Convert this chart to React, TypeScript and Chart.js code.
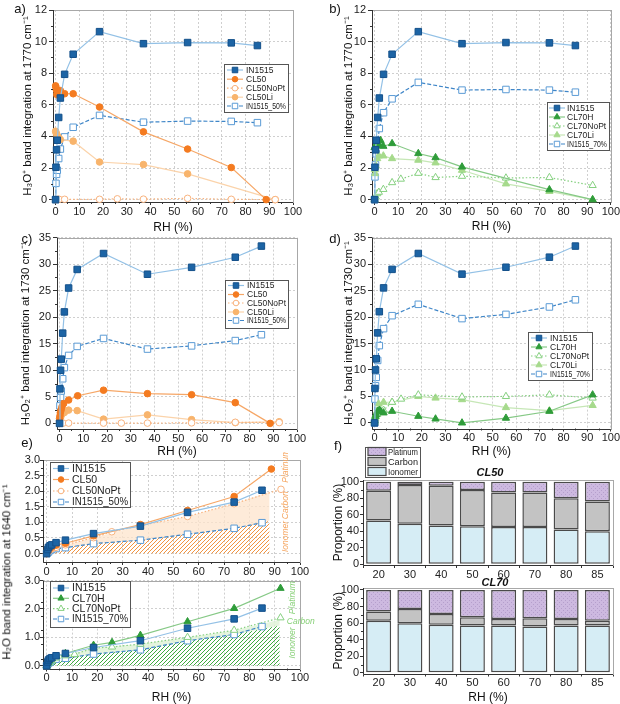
import React, { useEffect, useRef } from 'react';
import { Chart, registerables } from 'chart.js';
Chart.register(...registerables);

const FONT = "'Liberation Sans', Arial, Helvetica, sans-serif";

// ================= DATA =================
const rhIN1515 = [0, 0.15, 0.4, 0.7, 1.3, 2.0, 3.8, 7.4, 18.5, 37, 55.6, 74, 85];

// a) H3O+ band integration at 1770 cm-1 (CL50 family)
const aIN1515 = [0, 2.05, 3.15, 3.76, 5.2, 6.43, 7.93, 9.2, 10.63, 9.87, 9.94, 9.92, 9.75];
const aIN1515_50 = [0, 1.03, 1.6, 1.86, 2.6, 3.2, 3.97, 4.58, 5.33, 4.9, 4.97, 4.95, 4.87];
const aRhCL50 = [0, 0.15, 0.3, 0.5, 0.8, 1.2, 2.0, 3.8, 7.4, 18.5, 37, 55.6, 74, 88.7];
const aCL50 = [7.2, 7.1, 6.95, 6.65, 6.85, 6.7, 6.9, 6.7, 6.7, 5.86, 4.29, 3.2, 2.03, 0];
const aRhCL50NoPt = [0, 1.0, 1.5, 3.8, 18.5, 26, 37, 55.6, 74, 92.5];
const aCL50NoPt = [0, 0.02, 0.02, 0.02, 0.02, 0.05, 0.03, 0.08, 0.02, 0];
const aRhCL50Li = [0, 0.2, 0.5, 0.9, 1.4, 2.0, 7.4, 18.5, 37, 55.6, 92.5];
const aCL50Li = [4.33, 4.23, 4.12, 4.0, 3.9, 3.8, 3.7, 2.38, 2.22, 1.63, 0];

// b) H3O+ band integration at 1770 cm-1 (CL70 family)
const bIN1515_70 = [0, 1.44, 2.2, 2.9, 3.65, 4.5, 5.5, 6.38, 7.42, 6.93, 6.97, 6.93, 6.8];
const bRhCL70H = [0, 0.2, 0.5, 1.0, 1.8, 2.5, 3.7, 7.4, 18.5, 25.8, 37, 74, 92.3];
const bCL70H = [3.3, 3.35, 3.4, 3.45, 3.5, 3.75, 3.38, 3.55, 2.92, 2.66, 2.07, 0.63, 0];
const bRhCL70NoPt = [0, 0.5, 1.1, 1.8, 3.7, 7.4, 11.1, 18.5, 25.8, 37, 55.6, 74, 92.3];
const bCL70NoPt = [0, 0.17, 0.38, 0.47, 0.65, 1.08, 1.3, 1.67, 1.4, 1.48, 1.37, 1.4, 0.9];
const bRhCL70Li = [0.1, 0.2, 0.5, 1.1, 1.8, 3.7, 7.4, 18.5, 25.8, 37, 55.6, 74, 92.3];
const bCL70Li = [1.9, 1.65, 2.13, 2.6, 2.77, 2.77, 2.6, 2.5, 2.33, 1.86, 1.0, 0.52, 0];

// c) H5O2+ band integration at 1730 cm-1 (CL50 family)
const cIN1515 = [0, 6.5, 10, 12.1, 17, 21, 25.5, 29, 32, 28.1, 29.4, 31.3, 33.4];
const cIN1515_50 = [0, 3.3, 4.9, 6.1, 8.4, 10.5, 12.8, 14.5, 16.0, 14.0, 14.6, 15.6, 16.7];
const cRhCL50 = [0, 0.15, 0.3, 0.6, 1.0, 1.7, 3.8, 7.6, 18.5, 37, 55.6, 74, 88.7];
const cCL50 = [0.9, 1.4, 2.0, 2.5, 3.1, 3.75, 4.4, 5.2, 6.25, 5.6, 5.4, 3.9, 0];
const cRhCL50NoPt = [0, 1.0, 1.5, 3.8, 18.5, 26, 37, 55.6, 74, 92.5];
const cCL50NoPt = [0, 0.05, 0.05, 0.05, 0.05, 0.05, 0.05, 0.1, 0.2, 0.15];
const cRhCL50Li = [0, 0.3, 0.6, 1.3, 2.0, 3.8, 7.4, 18.5, 37, 55.6, 74, 92.5];
const cCL50Li = [0.5, 0.9, 1.4, 1.9, 2.05, 2.5, 2.4, 0.8, 1.6, 0.7, 0.15, 0.3];

// d) H5O2+ band integration at 1730 cm-1 (CL70 family)
const dIN1515_70 = [0, 4.5, 7.0, 8.6, 11.8, 14.6, 17.8, 20.25, 22.4, 19.7, 20.5, 21.9, 23.25];
const dRhCL70H = [0, 0.3, 0.6, 1.3, 2.0, 2.5, 3.8, 7.4, 18.5, 25.8, 37, 55.6, 74, 92.3];
const dCL70H = [0.5, 1.25, 1.6, 2.2, 2.4, 2.25, 1.9, 2.2, 1.25, 0.75, 0, 0.9, 2.2, 5.3];
const dRhCL70NoPt = [0, 0.5, 1.1, 3.8, 7.4, 11.2, 18.5, 37, 55.6, 74, 92.3];
const dCL70NoPt = [0.3, 1.25, 1.6, 2.4, 3.9, 4.5, 5.3, 4.9, 5.0, 5.3, 4.7];
const dRhCL70Li = [0, 0.3, 0.6, 1.0, 1.7, 3.8, 7.4, 18.5, 25.8, 37, 55.6, 74, 92.3];
const dCL70Li = [0.1, 0.9, 1.6, 2.2, 3.6, 3.9, 3.9, 5.0, 4.7, 4.4, 2.9, 2.3, 3.3];

// e) H2O band integration at 1640 cm-1
const eRhIN1515 = [0, 0.4, 0.7, 1.3, 2.0, 3.7, 7.4, 18.5, 37, 55.6, 74, 85];
const eIN1515 = [0, 0.13, 0.2, 0.25, 0.28, 0.35, 0.43, 0.64, 0.88, 1.32, 1.65, 2.03];
const eRhCL50 = [0, 0.5, 1.0, 2.0, 3.7, 7.4, 18.5, 37, 55.6, 74, 88.7];
const eCL50 = [0, 0.08, 0.13, 0.2, 0.27, 0.33, 0.57, 0.93, 1.38, 1.83, 2.71];
const eRhCL50NoPt = [0, 1, 2, 3.7, 7.4, 18.5, 25.7, 37, 55.6, 74, 92.5];
const eCL50NoPt = [0, 0.1, 0.15, 0.2, 0.28, 0.51, 0.7, 0.9, 1.19, 1.6, 2.06];
const eRhIN1515_x = [0, 0.7, 1.3, 2.0, 3.7, 7.4, 18.5, 37, 55.6, 74, 85];
const eIN1515_50 = [0, 0.05, 0.1, 0.13, 0.16, 0.19, 0.32, 0.43, 0.62, 0.81, 0.99];
const eRhCL70H = [0, 0.5, 1.0, 2.0, 3.7, 7.4, 18.5, 25.8, 37, 55.6, 74, 92.3];
const eCL70H = [0, 0.1, 0.17, 0.25, 0.33, 0.43, 0.72, 0.82, 1.07, 1.55, 2.02, 2.73];
const eRhCL70NoPt = [0, 1, 2, 3.7, 7.4, 11, 18.5, 25.8, 37, 55.6, 74, 92.3];
const eCL70NoPt = [0, 0.1, 0.18, 0.27, 0.35, 0.4, 0.62, 0.66, 0.76, 1.0, 1.25, 1.69];
const eIN1515_70 = [0, 0.08, 0.12, 0.2, 0.23, 0.26, 0.41, 0.56, 0.88, 1.1, 1.38];
// shaded regions (Ionomer hatch top, Carbon band top)
const eRhBand50 = [0, 3.7, 18.5, 37, 55.6, 74, 88];
const eIonomer50 = [0, 0.16, 0.32, 0.43, 0.62, 0.81, 1.05];
const eCarbon50 = [0, 0.2, 0.51, 0.9, 1.19, 1.6, 1.98];
const eRhBand70 = [0, 3.7, 18.5, 37, 55.6, 74, 92];
const eIonomer70 = [0, 0.23, 0.41, 0.56, 0.88, 1.1, 1.42];
const eCarbon70 = [0, 0.27, 0.62, 0.76, 1.0, 1.25, 1.62];

// f) proportions
const fRH = ['20', '30', '40', '50', '60', '70', '80', '85'];
const fCL50Ionomer = [53, 49, 47, 46, 45, 45, 42, 40];
const fCL50Carbon = [36, 47, 48, 44, 42, 42, 38, 36];
const fCL50Platinum = [11, 4, 5, 10, 13, 13, 20, 24];
const fCL70Ionomer = [63, 60, 58, 57, 57, 56, 57, 57];
const fCL70Carbon = [11, 17, 13, 10, 8, 10, 8, 6];
const fCL70Platinum = [26, 23, 29, 33, 35, 34, 35, 37];

// ================= STYLES =================
const C = {
  inFill: '#1c64a5', inBorder: '#14508a', inLine: '#93c1e6',
  inxLine: '#3f86c8', inxPt: '#5b9bd5',
  cl50: '#f47b20', cl50Line: '#f6a767',
  noPt50: '#f8b37f', li50: '#f8b46c', li50Line: '#fbd3aa',
  cl70: '#2f9c3a', cl70Line: '#86c986',
  noPt70: '#86d080', li70: '#a6da8c', li70Line: '#c6e7b6',
};
const pts = (xs: number[], ys: number[]) => xs.map((x, i) => ({ x, y: ys[i] }));
const base = { borderWidth: 1.2, tension: 0, fill: false, clip: false as any, pointBorderWidth: 1 };
const sIN = { ...base, borderColor: C.inLine, pointBackgroundColor: C.inFill, pointBorderColor: C.inBorder, pointStyle: 'rect', pointRadius: 4.6 };
const sINx = { ...base, borderColor: C.inxLine, borderDash: [4, 2], pointBackgroundColor: '#fff', pointBorderColor: C.inxPt, pointStyle: 'rect', pointRadius: 4.6 };
const sCL50 = { ...base, borderColor: C.cl50Line, pointBackgroundColor: C.cl50, pointBorderColor: C.cl50, pointStyle: 'circle', pointRadius: 3.3 };
const sNoPt50 = { ...base, borderColor: C.noPt50, borderDash: [1.5, 2], pointBackgroundColor: '#fff', pointBorderColor: C.noPt50, pointStyle: 'circle', pointRadius: 3.3 };
const sLi50 = { ...base, borderColor: C.li50Line, pointBackgroundColor: C.li50, pointBorderColor: C.li50, pointStyle: 'circle', pointRadius: 3.3 };
const sCL70 = { ...base, borderColor: C.cl70Line, pointBackgroundColor: C.cl70, pointBorderColor: C.cl70, pointStyle: 'triangle', pointRadius: 4.2 };
const sNoPt70 = { ...base, borderColor: C.noPt70, borderDash: [1.5, 2], pointBackgroundColor: '#fff', pointBorderColor: C.noPt70, pointStyle: 'triangle', pointRadius: 4.2 };
const sLi70 = { ...base, borderColor: C.li70Line, pointBackgroundColor: C.li70, pointBorderColor: C.li70, pointStyle: 'triangle', pointRadius: 4.2 };

function hatch(color: string) {
  const c = document.createElement('canvas');
  c.width = 4; c.height = 4;
  const g = c.getContext('2d')!;
  g.strokeStyle = color; g.lineWidth = 1;
  g.beginPath();
  g.moveTo(-1, 5); g.lineTo(5, -1);
  g.moveTo(-1, 1); g.lineTo(1, -1);
  g.moveTo(3, 5); g.lineTo(5, 3);
  g.stroke();
  return g.createPattern(c, 'repeat');
}
function dots(bg: string, dot: string) {
  const c = document.createElement('canvas');
  c.width = 4; c.height = 4;
  const g = c.getContext('2d')!;
  g.fillStyle = bg; g.fillRect(0, 0, 4, 4);
  g.fillStyle = dot; g.fillRect(0, 0, 1, 1); g.fillRect(2, 2, 1, 1);
  return g.createPattern(c, 'repeat');
}

// ================= PANEL SPECS =================
type Spec = any;
const lineCommon = { type: 'line', xMin: -1.1, xMax: 100, xStep: 10, xMinor: 5, grid: true };

const specs: Spec[] = [
  {
    ...lineCommon, area: { L: 53, T: 10, R: 293, B: 202 }, yW: 32, xH: 33, padTop: 10, padRight: 12,
    yMin: -0.15, yMax: 12, yStep: 2, yMinor: 1, yTitle: 'H₃O⁺ band integration at 1770 cm⁻¹', xTitle: 'RH (%)',
    legend: { L: 224, T: 64, R: 288, B: 112, rows: [70, 79.2, 88.2, 97.2, 106], x0: 227, x1: 243, tx: 246, font: 8.5 },
    ds: () => [
      { label: 'IN1515', data: pts(rhIN1515, aIN1515), ...sIN },
      { label: 'CL50', data: pts(aRhCL50, aCL50), ...sCL50 },
      { label: 'CL50NoPt', data: pts(aRhCL50NoPt, aCL50NoPt), ...sNoPt50 },
      { label: 'CL50Li', data: pts(aRhCL50Li, aCL50Li), ...sLi50 },
      { label: 'IN1515_50%', data: pts(rhIN1515, aIN1515_50), ...sINx },
    ],
  },
  {
    ...lineCommon, area: { L: 372, T: 10, R: 612, B: 202 }, yW: 30, xH: 32, padTop: 10, padRight: 8,
    yMin: -0.15, yMax: 12, yStep: 2, yMinor: 1, yTitle: 'H₃O⁺ band integration at 1770 cm⁻¹', xTitle: 'RH (%)',
    legend: { L: 547, T: 102, R: 609, B: 150, rows: [108, 117, 126, 135, 144], x0: 549, x1: 565, tx: 567, font: 8.5 },
    ds: () => [
      { label: 'IN1515', data: pts(rhIN1515, aIN1515), ...sIN },
      { label: 'CL70H', data: pts(bRhCL70H, bCL70H), ...sCL70 },
      { label: 'CL70NoPt', data: pts(bRhCL70NoPt, bCL70NoPt), ...sNoPt70 },
      { label: 'CL70Li', data: pts(bRhCL70Li, bCL70Li), ...sLi70 },
      { label: 'IN1515_70%', data: pts(rhIN1515, bIN1515_70), ...sINx },
    ],
  },
  {
    ...lineCommon, area: { L: 57, T: 237, R: 297, B: 429 }, yW: 38, xH: 30, padTop: 8, padRight: 12,
    yMin: -1.06, yMax: 35, yStep: 5, yMinor: 2.5, yTitle: 'H₅O₂⁺ band integration at 1730 cm⁻¹', xTitle: 'RH (%)',
    legend: { L: 225, T: 280, R: 288, B: 328, rows: [285.5, 294.5, 303, 312, 320.5], x0: 228, x1: 244, tx: 247, font: 8.5 },
    ds: () => [
      { label: 'IN1515', data: pts(rhIN1515, cIN1515), ...sIN },
      { label: 'CL50', data: pts(cRhCL50, cCL50), ...sCL50 },
      { label: 'CL50NoPt', data: pts(cRhCL50NoPt, cCL50NoPt), ...sNoPt50 },
      { label: 'CL50Li', data: pts(cRhCL50Li, cCL50Li), ...sLi50 },
      { label: 'IN1515_50%', data: pts(rhIN1515, cIN1515_50), ...sINx },
    ],
  },
  {
    ...lineCommon, area: { L: 372, T: 237, R: 612, B: 428.5 }, yW: 30, xH: 30.5, padTop: 8, padRight: 8,
    yMin: -1.06, yMax: 35, yStep: 5, yMinor: 2.5, yTitle: 'H₅O₂⁺ band integration at 1730 cm⁻¹', xTitle: 'RH (%)',
    legend: { L: 528, T: 332, R: 592, B: 380, rows: [338, 347, 356, 365, 374], x0: 531, x1: 547, tx: 550, font: 8.5 },
    ds: () => [
      { label: 'IN1515', data: pts(rhIN1515, cIN1515), ...sIN },
      { label: 'CL70H', data: pts(dRhCL70H, dCL70H), ...sCL70 },
      { label: 'CL70NoPt', data: pts(dRhCL70NoPt, dCL70NoPt), ...sNoPt70 },
      { label: 'CL70Li', data: pts(dRhCL70Li, dCL70Li), ...sLi70 },
      { label: 'IN1515_70%', data: pts(rhIN1515, dIN1515_70), ...sINx },
    ],
  },
  {
    ...lineCommon, area: { L: 43, T: 459.5, R: 300, B: 561.5 }, xMin: -1.45, yW: 30, xH: 20, padTop: 8, padRight: 12,
    yMin: -0.27, yMax: 3.0, yStep: 0.5, yMinor: 0.25, yDec: 1, yTickLen: 3, yPad: 0,
    legend: { L: 50, T: 462, R: 130, B: 507, rows: [468.5, 479.5, 491, 502], x0: 53, x1: 69, tx: 72, font: 10.5 },
    texts: [
      { x: 94.5, y: 2.8, text: 'Platinum', color: '#f6a660', rot: true, data: true },
      { x: 94.5, y: 1.55, text: 'Carbon', color: '#f6a660', rot: true, data: true },
      { x: 94.5, y: 0.55, text: 'Ionomer', color: '#f6a660', rot: true, data: true },
    ],
    ds: () => [
      { label: 'IN1515', data: pts(eRhIN1515, eIN1515), ...sIN },
      { label: 'CL50', data: pts(eRhCL50, eCL50), ...sCL50 },
      { label: 'CL50NoPt', data: pts(eRhCL50NoPt, eCL50NoPt), ...sNoPt50 },
      { label: 'IN1515_50%', data: pts(eRhIN1515_x, eIN1515_50), ...sINx },
      { label: '_carbon', data: pts(eRhBand50, eCarbon50), borderWidth: 0, pointRadius: 0, fill: 5, backgroundColor: 'rgba(253,228,204,0.75)' },
      { label: '_ionomer', data: pts(eRhBand50, eIonomer50), borderWidth: 0, pointRadius: 0, fill: 'origin', backgroundColor: hatch('#f39440') },
    ],
  },
  {
    ...lineCommon, area: { L: 43, T: 579.5, R: 300, B: 668 }, xMin: -1.45, yW: 30, xH: 36.5, padTop: 6, padRight: 20,
    yMin: -0.1, yMax: 3.0, yStep: 0.5, yMinor: 0.25, yDec: 1, yTickLen: 3, yPad: 0, xTitle: 'RH (%)',
    legend: { L: 50, T: 581, R: 130, B: 627, rows: [588, 598.3, 608.6, 619], x0: 53, x1: 69, tx: 72, font: 10.5 },
    texts: [
      { x: 97, y: 2.4, text: 'Platinum', color: '#88d078', rot: true, data: true },
      { x: 94.8, y: 1.57, text: 'Carbon', color: '#88d078', rot: false, data: true },
      { x: 97, y: 0.8, text: 'Ionomer', color: '#88d078', rot: true, data: true },
    ],
    ds: () => [
      { label: 'IN1515', data: pts(eRhIN1515, eIN1515), ...sIN },
      { label: 'CL70H', data: pts(eRhCL70H, eCL70H), ...sCL70 },
      { label: 'CL70NoPt', data: pts(eRhCL70NoPt, eCL70NoPt), ...sNoPt70 },
      { label: 'IN1515_70%', data: pts(eRhIN1515_x, eIN1515_70), ...sINx },
      { label: '_carbon', data: pts(eRhBand70, eCarbon70), borderWidth: 0, pointRadius: 0, fill: 5, backgroundColor: 'rgba(222,242,214,0.8)' },
      { label: '_ionomer', data: pts(eRhBand70, eIonomer70), borderWidth: 0, pointRadius: 0, fill: 'origin', backgroundColor: hatch('#3faa3f') },
    ],
  },
  {
    type: 'bar', area: { L: 363, T: 480, R: 613, B: 565 }, yW: 32, xH: 15, padTop: 40, padRight: 5,
    yMin: -0.85, yMax: 102, yStep: 20, yMinor: 10, yTitle: 'Proportion (%)', yTickLen: 3, yPad: 1,
    legend: { L: 365, T: 447, R: 420, B: 477, rows: [451.5, 461.5, 471.5], x0: 368, x1: 386, tx: 388, font: 9.5 },
    texts: [{ x: 490, y: 473, text: 'CL50', color: '#111', bold: true }],
    ds: () => barSets(fCL50Ionomer, fCL50Carbon, fCL50Platinum),
  },
  {
    type: 'bar', area: { L: 363, T: 588, R: 613, B: 673 }, yW: 32, xH: 31.5, padTop: 14, padRight: 5,
    yMin: -0.8, yMax: 102.4, yStep: 20, yMinor: 10, yTitle: 'Proportion (%)', xTitle: 'RH (%)', yTickLen: 3, yPad: 1,
    texts: [{ x: 495, y: 583, text: 'CL70', color: '#111', bold: true }],
    ds: () => barSets(fCL70Ionomer, fCL70Carbon, fCL70Platinum),
  },
];

function barSets(ion: number[], carb: number[], pt: number[]) {
  const b = { borderColor: '#4a4a4a', borderWidth: 1.5, borderSkipped: false, barPercentage: 0.8, categoryPercentage: 1 };
  return [
    { label: 'Ionomer', data: ion, backgroundColor: '#d6edf5', ...b },
    { label: 'Carbon', data: carb, backgroundColor: '#c3c3c3', ...b },
    { label: 'Platinum', data: pt, backgroundColor: dots('#cdb9e0', '#b59fcc'), ...b },
  ];
}

// ================= PLUGINS =================
function drawMarker(ctx: CanvasRenderingContext2D, style: string, r: number, x: number, y: number, fill: string, stroke: string) {
  ctx.beginPath();
  if (style === 'rect') {
    const s = r * Math.SQRT1_2;
    ctx.rect(x - s, y - s, 2 * s, 2 * s);
  } else if (style === 'triangle') {
    ctx.moveTo(x, y - r);
    ctx.lineTo(x + r * 0.866, y + r * 0.5);
    ctx.lineTo(x - r * 0.866, y + r * 0.5);
    ctx.closePath();
  } else {
    ctx.arc(x, y, r, 0, Math.PI * 2);
  }
  ctx.fillStyle = fill; ctx.fill();
  ctx.lineWidth = 1; ctx.strokeStyle = stroke; ctx.stroke();
}

const framePlugin = {
  id: 'frame',
  beforeDatasetsDraw(chart: any) {
    const { ctx, chartArea: a } = chart;
    ctx.save();
    ctx.setLineDash([]);
    ctx.lineWidth = 1;
    ctx.strokeStyle = '#a8a8a8';
    ctx.strokeRect(Math.round(a.left) + 0.5, Math.round(a.top) + 0.5, Math.round(a.right - a.left), Math.round(a.bottom - a.top));
    ctx.strokeStyle = '#333';
    ctx.beginPath();
    ctx.moveTo(Math.round(a.left) + 0.5, a.top);
    ctx.lineTo(Math.round(a.left) + 0.5, Math.round(a.bottom) + 0.5);
    ctx.lineTo(a.right, Math.round(a.bottom) + 0.5);
    ctx.stroke();
    ctx.restore();
  },
};

function minorPlugin(s: Spec) {
  return {
    id: 'minor',
    afterDraw(chart: any) {
      const { ctx, chartArea: a } = chart;
      ctx.save();
      ctx.strokeStyle = '#333';
      ctx.lineWidth = 1;
      ctx.setLineDash([]);
      if (s.type === 'line' && s.xMinor) {
        const sc = chart.scales.x;
        for (let v = 0; v <= s.xMax + 1e-9; v += s.xMinor) {
          if (Math.abs(v / s.xStep - Math.round(v / s.xStep)) < 1e-6) continue;
          const px = Math.round(sc.getPixelForValue(v)) + 0.5;
          ctx.beginPath(); ctx.moveTo(px, a.bottom); ctx.lineTo(px, a.bottom + 2); ctx.stroke();
        }
      }
      if (s.yMinor) {
        const sc = chart.scales.y;
        for (let v = 0; v <= s.yMax + 1e-9; v += s.yMinor) {
          if (Math.abs(v / s.yStep - Math.round(v / s.yStep)) < 1e-6) continue;
          const py = Math.round(sc.getPixelForValue(v)) + 0.5;
          ctx.beginPath(); ctx.moveTo(a.left, py); ctx.lineTo(a.left - 2, py); ctx.stroke();
        }
      }
      ctx.restore();
    },
  };
}

function legendPlugin(s: Spec, g: any) {
  return {
    id: 'boxLegend',
    afterDatasetsDraw(chart: any) {
      const L = s.legend;
      if (!L) return;
      const { ctx } = chart;
      const ox = g.cl, oy = g.ct;
      ctx.save();
      ctx.setLineDash([]);
      ctx.fillStyle = '#fff';
      ctx.fillRect(L.L - ox, L.T - oy, L.R - L.L, L.B - L.T);
      ctx.strokeStyle = '#555';
      ctx.lineWidth = 1;
      ctx.strokeRect(L.L - ox + 0.5, L.T - oy + 0.5, L.R - L.L, L.B - L.T);
      let items = chart.data.datasets.filter((d: any) => d.label && !d.label.startsWith('_'));
      if (s.type === 'bar') items = items.slice().reverse();
      items.forEach((d: any, i: number) => {
        const y = L.rows[i] - oy;
        if (s.type === 'bar') {
          ctx.fillStyle = d.backgroundColor;
          ctx.fillRect(L.x0 - ox, y - 4, L.x1 - L.x0, 8);
          ctx.strokeStyle = '#4a4a4a';
          ctx.lineWidth = 1.2;
          ctx.strokeRect(L.x0 - ox, y - 4, L.x1 - L.x0, 8);
        } else {
          ctx.strokeStyle = d.borderColor;
          ctx.lineWidth = 1.2;
          ctx.setLineDash(d.borderDash || []);
          ctx.beginPath(); ctx.moveTo(L.x0 - ox, y); ctx.lineTo(L.x1 - ox, y); ctx.stroke();
          ctx.setLineDash([]);
          drawMarker(ctx, d.pointStyle, d.pointRadius * 0.85, (L.x0 + L.x1) / 2 - ox, y, d.pointBackgroundColor, d.pointBorderColor);
        }
        ctx.fillStyle = '#222';
        ctx.font = `${L.font}px ${FONT}`;
        ctx.textBaseline = 'middle';
        ctx.textAlign = 'left';
        ctx.fillText(d.label, L.tx - ox, y + 0.5, L.R - L.tx - 2);
      });
      ctx.restore();
    },
  };
}

function textPlugin(s: Spec, g: any) {
  return {
    id: 'texts',
    afterDatasetsDraw(chart: any) {
      if (!s.texts) return;
      const { ctx } = chart;
      ctx.save();
      for (const t of s.texts) {
        const x = t.data ? chart.scales.x.getPixelForValue(t.x) : t.x - g.cl;
        const y = t.data ? chart.scales.y.getPixelForValue(t.y) : t.y - g.ct;
        ctx.fillStyle = t.color;
        ctx.font = t.bold ? `italic bold 11px ${FONT}` : `italic 8.5px ${FONT}`;
        ctx.textBaseline = 'middle';
        ctx.translate(x, y);
        if (t.rot) { ctx.rotate(-Math.PI / 2); ctx.textAlign = 'center'; }
        else ctx.textAlign = t.bold ? 'center' : 'left';
        ctx.fillText(t.text, 0, 0);
        ctx.setTransform(1, 0, 0, 1, 0, 0);
      }
      ctx.restore();
    },
  };
}

// ================= CHART BUILD =================
function geom(s: Spec) {
  const cl = Math.round(s.area.L - s.yW);
  const ct = Math.round(s.area.T - s.padTop);
  const cw = Math.round(s.area.R + s.padRight - cl);
  const ch = Math.round(s.area.B + s.xH - ct);
  return { cl, ct, cw, ch };
}

function buildConfig(s: Spec, g: any) {
  const tickFont = { family: FONT, size: 11 };
  const titleFont = { family: FONT, size: 12 };
  const isBar = s.type === 'bar';
  const x: any = isBar
    ? {
        type: 'category', stacked: true, offset: true,
        afterFit: (sc: any) => { sc.height = s.xH; },
        ticks: { font: tickFont, color: '#222', padding: 0, maxRotation: 0 },
        grid: { offset: true, drawOnChartArea: false, drawTicks: true, tickLength: 3, tickColor: '#333', tickBorderDash: [] },
        border: { display: false },
        title: { display: !!s.xTitle, text: s.xTitle, font: titleFont, color: '#111', padding: 0 },
      }
    : {
        type: 'linear', min: s.xMin, max: s.xMax,
        afterFit: (sc: any) => { sc.height = s.xH; },
        ticks: { stepSize: s.xStep, includeBounds: false, font: tickFont, color: '#222', padding: 0, maxRotation: 0, autoSkip: false },
        grid: { drawOnChartArea: true, color: '#cfcfcf', lineWidth: 1, drawTicks: true, tickLength: 3, tickColor: '#333', tickBorderDash: [] },
        border: { display: false, dash: [2, 2] },
        title: { display: !!s.xTitle, text: s.xTitle, font: titleFont, color: '#111', padding: 0 },
      };
  const y: any = {
    type: 'linear', min: s.yMin, max: s.yMax, stacked: isBar,
    afterFit: (sc: any) => { sc.width = s.yW; },
    ticks: {
      stepSize: s.yStep, includeBounds: false, font: tickFont, color: '#222', padding: s.yPad ?? 2,
      callback: (v: any) => Number(v).toFixed(s.yDec || 0),
    },
    grid: {
      drawOnChartArea: !isBar, color: '#cfcfcf', lineWidth: 1, drawTicks: true,
      tickLength: s.yTickLen ?? 4, tickColor: '#333', tickBorderDash: [],
    },
    border: { display: false, dash: [2, 2] },
    title: { display: !!s.yTitle, text: s.yTitle, font: { family: FONT, size: isBar ? 12 : 11.5 }, color: '#111', padding: 0 },
  };
  return {
    type: s.type,
    data: isBar ? { labels: fRH, datasets: s.ds() } : { datasets: s.ds() },
    options: {
      animation: false,
      responsive: false,
      devicePixelRatio: 1,
      layout: { padding: { top: s.padTop, right: s.padRight, left: 0, bottom: 0 } },
      plugins: { legend: { display: false }, tooltip: { enabled: false }, title: { display: false } },
      scales: { x, y },
    },
    plugins: [framePlugin, minorPlugin(s), legendPlugin(s, g), textPlugin(s, g)],
  };
}

function Panel({ spec }: { spec: Spec }) {
  const ref = useRef<HTMLCanvasElement>(null);
  const g = geom(spec);
  useEffect(() => {
    const chart = new Chart(ref.current as HTMLCanvasElement, buildConfig(spec, g) as any);
    return () => chart.destroy();
  }, []);
  return (
    <canvas
      ref={ref}
      width={g.cw}
      height={g.ch}
      style={{ position: 'absolute', left: g.cl, top: g.ct, width: g.cw, height: g.ch }}
    />
  );
}

const panelLabels = [
  { t: 'a)', x: 20, y: 8 },
  { t: 'b)', x: 335, y: 8 },
  { t: 'c)', x: 27, y: 238 },
  { t: 'd)', x: 335, y: 238 },
  { t: 'e)', x: 27, y: 442 },
  { t: 'f)', x: 338, y: 445 },
];

export default function App() {
  return (
    <div style={{ position: 'absolute', left: 0, top: 0, width: 620, height: 704, overflow: 'hidden', background: '#fff', fontFamily: FONT }}>
      {specs.map((s, i) => <Panel key={i} spec={s} />)}
      {panelLabels.map((p) => (
        <div key={p.t} style={{ position: 'absolute', left: p.x, top: p.y, transform: 'translate(-50%,-50%)', fontSize: 13, color: '#111', lineHeight: 1 }}>
          {p.t}
        </div>
      ))}
      <div style={{ position: 'absolute', left: 7, top: 572, transform: 'translate(-50%,-50%) rotate(-90deg)', whiteSpace: 'nowrap', fontSize: 11.5, color: '#111', lineHeight: 1 }}>
        H₂O band integration at 1640 cm⁻¹
      </div>
    </div>
  );
}
